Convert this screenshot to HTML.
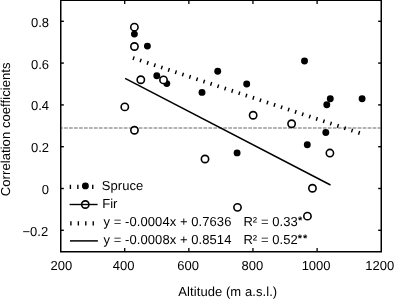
<!DOCTYPE html>
<html><head><meta charset="utf-8"><style>
html,body{margin:0;padding:0;background:#fff;}
svg{display:block;will-change:transform;}
text{font-family:"Liberation Sans", sans-serif;font-size:13px;fill:#000;text-rendering:geometricPrecision;}
.w{letter-spacing:0.07px;}
.ast{font-size:11px;font-weight:bold;}
</style></head><body>
<svg width="394" height="299" viewBox="0 0 394 299">
<line x1="61.5" y1="128" x2="380.5" y2="128" stroke="#9a9a9a" stroke-width="1.3" stroke-dasharray="3.7 1.276" stroke-dashoffset="2.38"/>
<line x1="132.94" y1="57.98" x2="359.76" y2="133.12" stroke="#000" stroke-width="3.8" stroke-dasharray="1.4 6.023"/>
<line x1="125.1" y1="78.4" x2="330.5" y2="185.0" stroke="#000" stroke-width="1.5"/>
<circle cx="134.4" cy="34.1" r="3.45" fill="#000"/>
<circle cx="147.4" cy="46.1" r="3.45" fill="#000"/>
<circle cx="156.8" cy="75.8" r="3.45" fill="#000"/>
<circle cx="166.8" cy="83.6" r="3.45" fill="#000"/>
<circle cx="202.0" cy="92.4" r="3.45" fill="#000"/>
<circle cx="217.7" cy="71.3" r="3.45" fill="#000"/>
<circle cx="246.7" cy="84.0" r="3.45" fill="#000"/>
<circle cx="237.1" cy="152.9" r="3.45" fill="#000"/>
<circle cx="304.5" cy="61.0" r="3.45" fill="#000"/>
<circle cx="330.3" cy="98.7" r="3.45" fill="#000"/>
<circle cx="326.8" cy="104.8" r="3.45" fill="#000"/>
<circle cx="362.1" cy="98.7" r="3.45" fill="#000"/>
<circle cx="325.8" cy="132.5" r="3.45" fill="#000"/>
<circle cx="307.3" cy="144.8" r="3.45" fill="#000"/>
<circle cx="134.4" cy="27.2" r="3.65" fill="#fff" stroke="#000" stroke-width="1.6"/>
<circle cx="134.45" cy="46.5" r="3.65" fill="#fff" stroke="#000" stroke-width="1.6"/>
<circle cx="140.8" cy="79.75" r="3.65" fill="#fff" stroke="#000" stroke-width="1.6"/>
<circle cx="163.5" cy="79.9" r="3.65" fill="#fff" stroke="#000" stroke-width="1.6"/>
<circle cx="124.8" cy="106.9" r="3.65" fill="#fff" stroke="#000" stroke-width="1.6"/>
<circle cx="134.45" cy="130.25" r="3.65" fill="#fff" stroke="#000" stroke-width="1.6"/>
<circle cx="205.0" cy="159.0" r="3.65" fill="#fff" stroke="#000" stroke-width="1.6"/>
<circle cx="253.15" cy="115.25" r="3.65" fill="#fff" stroke="#000" stroke-width="1.6"/>
<circle cx="329.9" cy="153.05" r="3.65" fill="#fff" stroke="#000" stroke-width="1.6"/>
<circle cx="312.45" cy="188.25" r="3.65" fill="#fff" stroke="#000" stroke-width="1.6"/>
<circle cx="237.5" cy="207.35" r="3.65" fill="#fff" stroke="#000" stroke-width="1.6"/>
<circle cx="307.45" cy="216.15" r="3.65" fill="#fff" stroke="#000" stroke-width="1.6"/>
<circle cx="291.6" cy="123.75" r="3.65" fill="#fff" stroke="#000" stroke-width="1.6"/>
<rect x="60.75" y="0.25" width="320.5" height="251.5" fill="none" stroke="#000" stroke-width="1.5"/>
<line x1="124.7" y1="251.75" x2="124.7" y2="247.95" stroke="#000" stroke-width="1.3"/>
<line x1="124.7" y1="0.25" x2="124.7" y2="4.05" stroke="#000" stroke-width="1.3"/>
<line x1="188.85" y1="251.75" x2="188.85" y2="247.95" stroke="#000" stroke-width="1.3"/>
<line x1="188.85" y1="0.25" x2="188.85" y2="4.05" stroke="#000" stroke-width="1.3"/>
<line x1="252.95" y1="251.75" x2="252.95" y2="247.95" stroke="#000" stroke-width="1.3"/>
<line x1="252.95" y1="0.25" x2="252.95" y2="4.05" stroke="#000" stroke-width="1.3"/>
<line x1="317.1" y1="251.75" x2="317.1" y2="247.95" stroke="#000" stroke-width="1.3"/>
<line x1="317.1" y1="0.25" x2="317.1" y2="4.05" stroke="#000" stroke-width="1.3"/>
<line x1="60.75" y1="21.30" x2="63.85" y2="21.30" stroke="#000" stroke-width="1.4"/>
<line x1="381.25" y1="21.30" x2="378.15" y2="21.30" stroke="#000" stroke-width="1.4"/>
<line x1="60.75" y1="63.10" x2="63.85" y2="63.10" stroke="#000" stroke-width="1.4"/>
<line x1="381.25" y1="63.10" x2="378.15" y2="63.10" stroke="#000" stroke-width="1.4"/>
<line x1="60.75" y1="104.90" x2="63.85" y2="104.90" stroke="#000" stroke-width="1.4"/>
<line x1="381.25" y1="104.90" x2="378.15" y2="104.90" stroke="#000" stroke-width="1.4"/>
<line x1="60.75" y1="146.70" x2="63.85" y2="146.70" stroke="#000" stroke-width="1.4"/>
<line x1="381.25" y1="146.70" x2="378.15" y2="146.70" stroke="#000" stroke-width="1.4"/>
<line x1="60.75" y1="188.50" x2="63.85" y2="188.50" stroke="#000" stroke-width="1.4"/>
<line x1="381.25" y1="188.50" x2="378.15" y2="188.50" stroke="#000" stroke-width="1.4"/>
<line x1="60.75" y1="230.30" x2="63.85" y2="230.30" stroke="#000" stroke-width="1.4"/>
<line x1="381.25" y1="230.30" x2="378.15" y2="230.30" stroke="#000" stroke-width="1.4"/>
<text x="49.0" y="26.80" text-anchor="end">0.8</text>
<text x="49.0" y="68.60" text-anchor="end">0.6</text>
<text x="49.0" y="110.40" text-anchor="end">0.4</text>
<text x="49.0" y="152.20" text-anchor="end">0.2</text>
<text x="49.0" y="194.00" text-anchor="end">0</text>
<text x="48.2" y="235.80" text-anchor="end">−0.2</text>
<text x="61.4" y="270" text-anchor="middle">200</text>
<text x="123.6" y="270" text-anchor="middle">400</text>
<text x="188.1" y="270" text-anchor="middle">600</text>
<text x="252.4" y="270" text-anchor="middle">800</text>
<text x="316.1" y="270" text-anchor="middle">1000</text>
<text x="379.8" y="270" text-anchor="middle">1200</text>
<text x="227.8" y="296" text-anchor="middle" class="w">Altitude (m a.s.l.)</text>
<text transform="translate(10.3 129.3) rotate(-90)" text-anchor="middle" class="w">Correlation coefficients</text>
<line x1="69.7" y1="186.9" x2="94" y2="186.9" stroke="#000" stroke-width="4.2" stroke-dasharray="1.4 6.05"/>
<circle cx="85.4" cy="185.9" r="3.45" fill="#000"/>
<circle cx="85.3" cy="204.5" r="3.65" fill="none" stroke="#000" stroke-width="1.6"/>
<line x1="69.6" y1="204.5" x2="97.6" y2="204.5" stroke="#000" stroke-width="1.4"/>
<line x1="70.2" y1="223.3" x2="95" y2="223.3" stroke="#000" stroke-width="4.2" stroke-dasharray="1.4 6.05"/>
<line x1="70" y1="240.9" x2="97.9" y2="240.9" stroke="#000" stroke-width="1.5"/>
<text x="101.8" y="189.5" class="w">Spruce</text>
<text x="102.2" y="208.1">Fir</text>
<text x="103.5" y="226.45" class="w">y = -0.0004x + 0.7636</text>
<text x="103.5" y="243.85" class="w">y = -0.0008x + 0.8514</text>
<text x="243.4" y="226.45" class="w">R² = 0.33</text>
<text x="243.4" y="243.85" class="w">R² = 0.52</text>
<text x="297.9" y="224.3" class="ast">*</text>
<text x="297.7" y="241.7" class="ast">*</text>
<text x="303.1" y="241.7" class="ast">*</text>
</svg>
</body></html>
